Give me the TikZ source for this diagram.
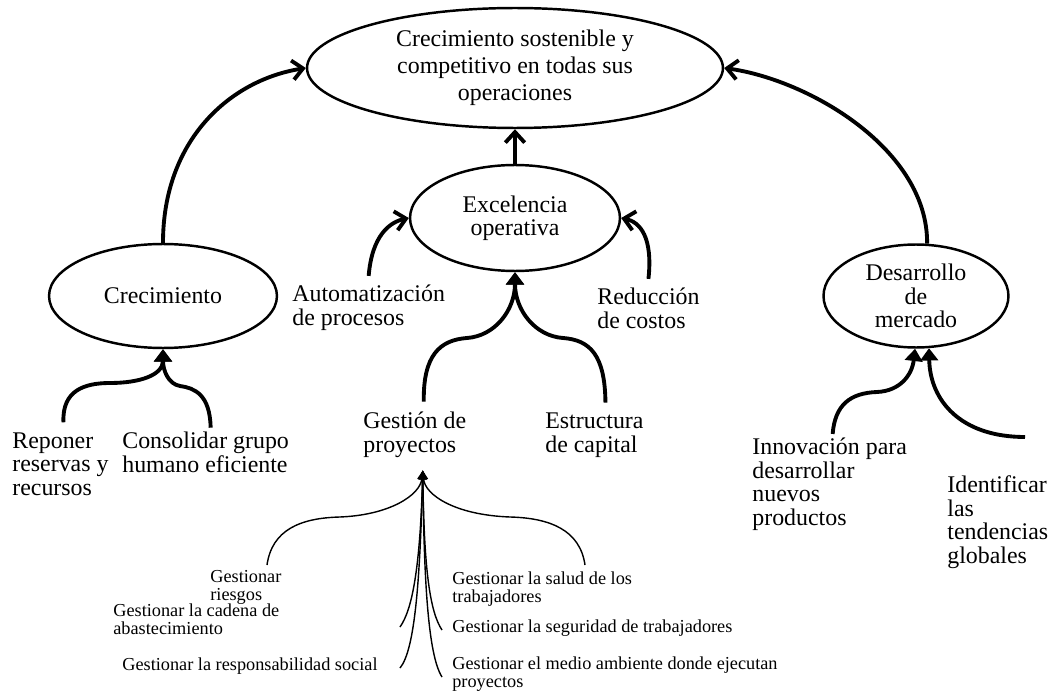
\documentclass[tikz,border=0pt]{standalone}
\usepackage{fontspec}
\setmainfont{Liberation Serif}
\usetikzlibrary{shapes.geometric,arrows.meta}

\tikzset{
 elip/.style={ellipse,draw,line width=1.4pt,inner sep=0pt,align=center,font=\fontsize{13.6}{13.3}\selectfont},
 txt/.style={inner sep=0pt,align=left,anchor=base west,font=\fontsize{13.6}{13.3}\selectfont},
 ptxt/.style={inner sep=0pt,align=left,anchor=base west,font=\fontsize{10.4}{9.7}\selectfont},
 gruesa/.style={line width=2.2pt},
 fina/.style={line width=0.8pt},
 barb/.style={-{Straight Barb[length=6pt,width=11pt]}},
 pico/.style={-{Triangle[length=7pt,width=10pt]}},
 picof/.style={-{Triangle[length=5pt,width=5pt]}}
}

\begin{document}
\begin{tikzpicture}[x=0.02cm,y=-0.02cm]
\useasboundingbox (0,0) rectangle (1049,696);
% objetivos
\node[elip,font=\fontsize{13.6}{15.3}\selectfont,minimum width=8.32cm,minimum height=2.4cm] (top) at (515,68) {Crecimiento sostenible y\\competitivo en todas sus\\operaciones};
\node[elip,minimum width=4.2cm,minimum height=2.12cm] (exc) at (515,218) {Excelencia\\operativa};
\node[elip,minimum width=4.56cm,minimum height=2.08cm] (crec) at (163,296) {Crecimiento};
\node[elip,minimum width=3.7cm,minimum height=2.06cm] (des) at (916,296) {Desarrollo\\de\\mercado};

% iniciativas (base = ultima linea)
\node[txt] (auto) at (292,325) {Automatización\\de procesos};
\node[txt] (redu) at (597,328) {Reducción\\de costos};
\node[txt] (gest) at (363,452) {Gestión de\\proyectos};
\node[txt] (estr) at (545,452) {Estructura\\de capital};
\node[txt] (repo) at (12,495) {Reponer\\reservas y\\recursos};
\node[txt] (cons) at (122,472) {Consolidar grupo\\humano eficiente};
\node[txt] (inno) at (752,525) {Innovación para\\desarrollar\\nuevos\\productos};
\node[txt] (iden) at (947,563) {Identificar\\las\\tendencias\\globales};

% gestion de proyectos
\node[ptxt] (rie) at (210,600) {Gestionar\\riesgos};
\node[ptxt] (cad) at (113,634) {Gestionar la cadena de\\abastecimiento};
\node[ptxt] (res) at (122,670) {Gestionar la responsabilidad social};
\node[ptxt] (sal) at (452,602) {Gestionar la salud de los\\trabajadores};
\node[ptxt] (seg) at (452,632) {Gestionar la seguridad de trabajadores};
\node[ptxt] (med) at (452,687) {Gestionar el medio ambiente donde ejecutan\\proyectos};

% hacia el objetivo
\draw[gruesa,barb] (crec.north) .. controls (163,140) and (230,80) .. (top.west);
\draw[gruesa,barb] (des.78) .. controls (928,150) and (810,80) .. (top.east);
\draw[gruesa,barb] (exc.north) -- (top.south);
\draw[gruesa,barb] ([yshift=5pt]auto.north) .. controls (372,235) and (390,222) .. (exc.west);
\draw[gruesa,barb] ([yshift=5pt]redu.north) .. controls (653,237) and (640,222) .. (exc.east);

\draw[gruesa,pico] ([shift={(9,-10)}]gest.north) .. controls (423,355) and (440,340) .. (467,338) .. controls (495,336) and (515,310) .. (exc.south);
\draw[gruesa,pico] ([shift={(11,-10)}]estr.north) .. controls (605,355) and (590,340) .. (563,338) .. controls (535,336) and (515,310) .. (exc.south);
\draw[gruesa,pico] ([shift={(3,-10)}]repo.north) .. controls (62,390) and (85,383) .. (110,383) .. controls (140,383) and (163,375) .. (crec.south);
\draw[gruesa,pico] ([shift={(5,-4)}]cons.north) .. controls (210,395) and (195,388) .. (180,386) .. controls (168,384) and (163,370) .. (crec.south);

\coordinate (idc) at (1025,437);
\draw[gruesa,pico] ([shift={(3,-4)}]inno.north) .. controls (835,405) and (850,393) .. (877,392) .. controls (900,391) and (912,375) .. (des.-91);
\draw[gruesa,pico] (idc) .. controls (960,437) and (930,400) .. (des.-76);

% abanico
\coordinate (gp) at ([shift={(8,13)}]gest.south);
\coordinate (e1) at (267,565);
\coordinate (e2) at (585,565);
\coordinate (e3) at (400,627);
\coordinate (e4) at (400,668);
\coordinate (e5) at (442,630);
\coordinate (e6) at (442,677);
\draw[fina,picof] (e1) .. controls (272,530) and (300,518) .. (340,517) .. controls (390,515) and (420,495) .. (gp);
\draw[fina,picof] (e2) .. controls (580,530) and (550,518) .. (510,517) .. controls (455,515) and (425,495) .. (gp);
\draw[fina,picof] (e3) .. controls (412,610) and (420,570) .. (gp);
\draw[fina,picof] (e4) .. controls (415,650) and (420,580) .. (gp);
\draw[fina,picof] (e5) .. controls (430,612) and (424,570) .. (gp);
\draw[fina,picof] (e6) .. controls (428,655) and (424,580) .. (gp);
\end{tikzpicture}
\end{document}
